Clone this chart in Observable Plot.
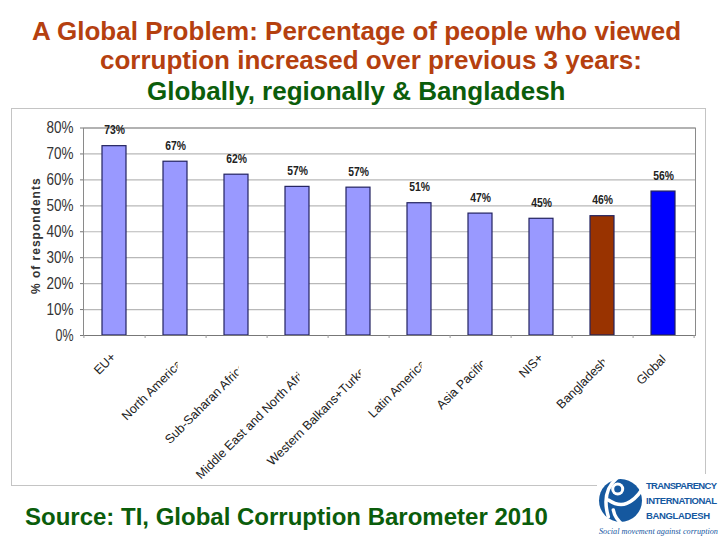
<!DOCTYPE html>
<html><head><meta charset="utf-8">
<script src="https://cdn.jsdelivr.net/npm/d3@7"></script>
<script src="https://cdn.jsdelivr.net/npm/@observablehq/plot@0.6"></script>
<style>
html,body{margin:0;padding:0;background:#fff;width:720px;height:540px;overflow:hidden;font-family:"Liberation Sans",Arial,sans-serif}
#title{position:absolute;left:0;top:16px;width:720px;font-weight:bold;font-size:26px;line-height:30px;white-space:nowrap}
#title div{position:absolute;white-space:nowrap}
#box{position:absolute;left:11px;top:108px;width:695px;height:378px;border:1px solid #c4c4c4;box-sizing:border-box}
#chart{position:absolute;left:0;top:108px}
#source{position:absolute;left:25px;top:503px;font-weight:bold;font-size:24px;color:#0b5d0b;white-space:nowrap}
#logo{position:absolute;left:597px;top:474px;background:#fff}
</style></head><body>
<div id="title">
<div style="left:32px;top:0;color:#b5400f">A Global Problem: Percentage of people who viewed</div>
<div style="left:100px;top:29px;color:#b5400f">corruption increased over previous 3 years:</div>
<div style="left:147px;top:60px;color:#0b5d0b">Globally, regionally &amp; Bangladesh</div>
</div>
<div id="box"></div>
<div id="chart"></div>
<div id="source">Source: TI, Global Corruption Barometer 2010</div>
<svg id="logo" width="123" height="66" viewBox="0 0 123 66">
<circle cx="23.5" cy="26.5" r="21.5" fill="#15589f"/>
<g fill="none" stroke="#fff" stroke-width="3.5" stroke-linecap="round">
<path d="M19.7 4.3 Q4 18 11.3 42.7"/>
<path d="M11.3 26 Q22 33 29.7 29.3 Q38 26 44.7 16"/>
<path d="M16.3 36 Q18 45 26.3 51"/>
</g>
<circle cx="20.7" cy="15" r="6.5" fill="#fff"/>
<circle cx="20.7" cy="15" r="3.5" fill="#15589f"/>
<g font-family="'Liberation Sans',Arial,sans-serif" font-weight="bold" font-size="9.5" fill="#15589f">
<text x="49" y="15" textLength="71" lengthAdjust="spacing">TRANSPARENCY</text>
<text x="49" y="30" textLength="71" lengthAdjust="spacing">INTERNATIONAL</text>
<text x="49" y="45" textLength="64" lengthAdjust="spacing">BANGLADESH</text>
</g>
<text x="2" y="60" font-family="'Liberation Serif',serif" font-style="italic" font-size="8.2" fill="#15589f">Social movement against corruption</text>
</svg>
<script>
const categories = ["EU+","North America","Sub-Saharan Africa","Middle East and North Africa","Western Balkans+Turkey","Latin America","Asia Pacific","NIS+","Bangladesh","Global"];
const values = [73,67,62,57.3,57,51,47,45,46,55.5];
const valueLabels = ["73%","67%","62%","57%","57%","51%","47%","45%","46%","56%"];
const barColors = ["#9999ff","#9999ff","#9999ff","#9999ff","#9999ff","#9999ff","#9999ff","#9999ff","#993300","#0000ff"];
const yTicks = [0,10,20,30,40,50,60,70,80];
const data = categories.map((c,i)=>({c,v:values[i],l:valueLabels[i],col:barColors[i]}));

// Horizontally condensed text, as the reference's labels are
function condense(g, perChar){
  g.querySelectorAll("text").forEach(t=>{
    t.setAttribute("textLength", t.textContent.length*perChar);
    t.setAttribute("lengthAdjust","spacingAndGlyphs");
  });
}

// Each category label is cut off at the vertical line through its tick centre, as in the reference
function labelMark(c, i){
  const dx = 0.55*(c.length-3) - 1;
  const dy = Math.min(29.5, 17.5 + c.length*0.7);
  return Plot.text([c],{
    x:d=>d, y:()=>0, text:d=>d, rotate:-45, textAnchor:"end", lineAnchor:"middle",
    dx, dy, fontSize:12.5, fill:"#222",
    render(index, scales, vals, dims, context, next){
      const g = next(index, scales, vals, dims, context);
      const cx = scales.x(c);
      const id = "clip-label-"+i;
      const ns = "http://www.w3.org/2000/svg";
      const cp = document.createElementNS(ns,"clipPath"); cp.setAttribute("id",id);
      const r = document.createElementNS(ns,"rect");
      r.setAttribute("x",-1000); r.setAttribute("y",-1000);
      r.setAttribute("width",1000+cx+2-dx); r.setAttribute("height",3000);
      cp.appendChild(r); g.appendChild(cp);
      g.setAttribute("clip-path","url(#"+id+")");
      return g;
    }
  });
}

const plot = Plot.plot({
  width:720, height:382,
  marginLeft:83, marginRight:25, marginTop:19.5, marginBottom:155,
  style:{fontFamily:"'Liberation Sans',Arial,sans-serif",background:"transparent",overflow:"visible"},
  x:{domain:categories,paddingInner:0.6,paddingOuter:0.3,align:0.5},
  y:{domain:[0,80]},
  marks:[
    Plot.ruleY(yTicks,{stroke:"#b8b8b8",strokeWidth:1.2}),
    Plot.frame({stroke:"#8a8a8a"}),
    Plot.barY(data,{x:"c",y:"v",fill:"col",stroke:"#22225f",strokeWidth:1.2}),
    Plot.ruleY([0],{stroke:"#777"}),
    Plot.text(data,{x:"c",y:"v",text:"l",dy:-12,fontSize:13.5,fontWeight:"bold",fill:"#222",textAnchor:"middle",lineAnchor:"bottom",
      render(i,s,v,d,c,next){const g=next(i,s,v,d,c); condense(g,6.9); return g;}}),
    Plot.axisY({ticks:yTicks,tickFormat:d=>d+"%",fontSize:17,tickSize:3,tickPadding:7,stroke:"#777",fill:"#333",label:null}),
    Plot.axisX({text:null,tickSize:3,stroke:"#999",dx:30.6,label:null}),
    Plot.axisX({ticks:[categories[0]],text:null,tickSize:3,stroke:"#999",dx:-30.6,label:null}),
    ...categories.map(labelMark),
    Plot.text(["% of respondents"],{frameAnchor:"left",textAnchor:"middle",dx:-47,dy:4,rotate:-90,text:d=>d,fontSize:12,fontWeight:"bold",fill:"#333",
      render(i,s,v,d,c,next){const g=next(i,s,v,d,c); g.style.letterSpacing="1px"; return g;}})
  ]
});
plot.querySelectorAll('g[aria-label="y-axis tick label"]').forEach(g=>condense(g,9));
document.getElementById("chart").appendChild(plot);
</script>
</body></html>
